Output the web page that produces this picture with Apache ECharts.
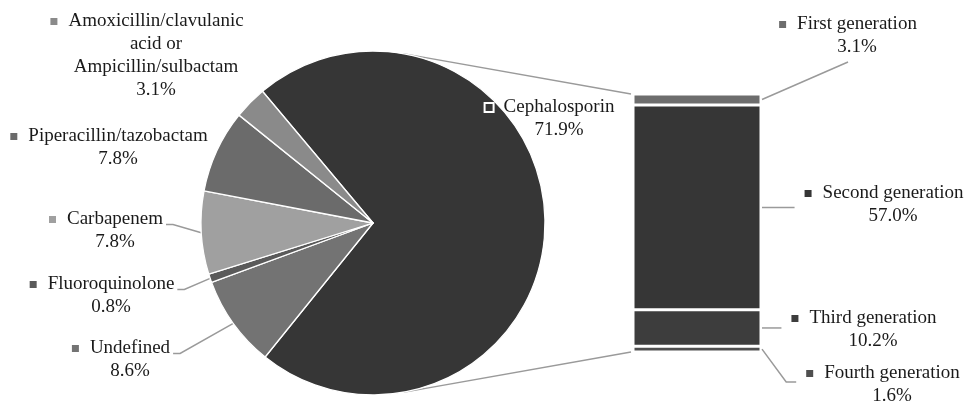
<!DOCTYPE html>
<html>
<head>
<meta charset="utf-8">
<script src="https://cdn.jsdelivr.net/npm/echarts@6/dist/echarts.min.js"></script>
<style>
  html, body { margin: 0; padding: 0; background: #fff; }
  #main { width: 964px; height: 403px; }
</style>
</head>
<body>
<div id="main"></div>
<script>
// pie: antibiotic classes (%)
var pieNames = ['Cephalosporin', 'Undefined', 'Fluoroquinolone', 'Carbapenem',
  'Piperacillin/tazobactam', 'Amoxicillin/clavulanic\nacid or\nAmpicillin/sulbactam'];
var pieValues = [71.9, 8.6, 0.8, 7.8, 7.8, 3.1];
// bar: cephalosporin split by generation (%)
var barNames = ['First generation', 'Second generation', 'Third generation', 'Fourth generation'];
var barValues = [3.1, 57.0, 10.2, 1.6];

var pieColors = ['#363636', '#737373', '#5a5a5a', '#a0a0a0', '#6b6b6b', '#8a8a8a'];
var barColors = ['#6d6d6d', '#363636', '#3d3d3d', '#4f4f4f'];

// where the label blocks sit (centre of each block)
var pieLabelPos = [[559, 119], [130, 360], [111, 296], [115, 231], [118, 148], [156, 56]];
var barLabelPos = [[857, 36], [893, 205], [873, 330], [892, 385]];
var barLineSide = ['bottom', 'left', 'left', 'left'];

var PIE_C = [373, 223], PIE_R = 172;
var GRID = { left: 633, top: 94, width: 128, height: 258 };
var FONT = "'Liberation Serif', 'Times New Roman', serif";
var FONT_SIZE = 19, LINE_H = 23;
var lineColor = '#9a9a9a';
var SPACER = 18; // marker + gap, mirrored on the right of line 1

function makeRich(colors) {
  var r = { g: { width: 11 } };
  colors.forEach(function (c, i) {
    r['m' + i] = { width: 7, height: 7, backgroundColor: c };
  });
  r.h = { width: 7 };
  return r;
}

function labelText(name, value, idx) {
  var lines = name.split('\n');
  var s = '{m' + idx + '|}{g|}' + lines[0] + '{g|}{h|}';
  for (var i = 1; i < lines.length; i++) s += '\n' + lines[i];
  return s + '\n' + value.toFixed(1) + '%';
}

var pieRich = makeRich(pieColors);
pieRich.m0 = { width: 7, height: 7, backgroundColor: '#363636', borderColor: '#fff', borderWidth: 2 };

var myChart = echarts.init(document.getElementById('main'));

var series = [{
  type: 'pie',
  center: PIE_C,
  radius: PIE_R,
  startAngle: 130,
  clockwise: true,
  avoidLabelOverlap: false,
  silent: true,
  itemStyle: { borderColor: '#fff', borderWidth: 1.3 },
  label: {
    show: true,
    position: 'outside',
    color: '#1a1a1a',
    fontFamily: FONT,
    fontSize: FONT_SIZE,
    lineHeight: LINE_H,
    align: 'center',
    rich: pieRich,
    formatter: function (p) { return labelText(p.name, p.value, p.dataIndex); }
  },
  labelLine: { show: true, lineStyle: { color: lineColor, width: 1.5 } },
  labelLayout: function (p) {
    var pos = pieLabelPos[p.dataIndex];
    var out = { x: pos[0], y: pos[1], align: 'center', verticalAlign: 'middle' };
    if (p.labelLinePoints) {
      var w = p.labelRect.width, h = p.labelRect.height;
      var right = pos[0] + w / 2 - SPACER;
      var ly = pos[1] - h / 2 + LINE_H / 2 + 5;
      out.labelLinePoints = [[right + 3, ly], [right + 10, ly], p.labelLinePoints[0]];
    }
    return out;
  },
  data: pieNames.map(function (n, i) {
    var item = { name: n, value: pieValues[i], itemStyle: { color: pieColors[i] } };
    if (i === 0 || i >= 4) item.labelLine = { show: false };
    return item;
  })
}];

var barRich = makeRich(barColors);
barNames.forEach(function (n, i) {
  series.push({
    name: n,
    type: 'bar',
    stack: 'ceph',
    barWidth: '100%',
    silent: true,
    data: [barValues[i]],
    itemStyle: { color: barColors[i], borderColor: '#fff', borderWidth: 1.5 },
    label: {
      show: true,
      position: 'right',
      color: '#1a1a1a',
      fontFamily: FONT,
      fontSize: FONT_SIZE,
      lineHeight: LINE_H,
      align: 'center',
      rich: barRich,
      formatter: function (p) { return labelText(n, p.value, i); }
    },
    labelLayout: function () {
      var pos = barLabelPos[i];
      return { x: pos[0], y: pos[1], align: 'center', verticalAlign: 'middle' };
    }
  });
});

// tangent point on the pie for a connector going to point P
function tangent(P, upper) {
  var dx = P[0] - PIE_C[0], dy = P[1] - PIE_C[1];
  var d = Math.sqrt(dx * dx + dy * dy);
  var phi = Math.atan2(dy, dx), a = Math.acos(PIE_R / d);
  var t = upper ? phi - a : phi + a;
  return [PIE_C[0] + PIE_R * Math.cos(t), PIE_C[1] + PIE_R * Math.sin(t)];
}
var topCorner = [GRID.left - 2, GRID.top];
var botCorner = [GRID.left - 2, GRID.top + GRID.height];
var t1 = tangent(topCorner, true), t2 = tangent(botCorner, false);

var option = {
  backgroundColor: '#fff',
  animation: false,
  grid: GRID,
  xAxis: { type: 'category', data: ['Cephalosporin'], show: false },
  yAxis: { type: 'value', min: 0, max: 71.9, inverse: true, show: false },
  graphic: [
    { type: 'line', id: 'connTop', z: -1, shape: { x1: t1[0], y1: t1[1], x2: topCorner[0], y2: topCorner[1] },
      style: { stroke: lineColor, lineWidth: 1.5 } },
    { type: 'line', id: 'connBot', z: -1, shape: { x1: t2[0], y1: t2[1], x2: botCorner[0], y2: botCorner[1] },
      style: { stroke: lineColor, lineWidth: 1.5 } }
  ],
  series: series
};

myChart.setOption(option);

// leader lines for the bar labels, from the middle of each segment
var ctx = document.createElement('canvas').getContext('2d');
ctx.font = FONT_SIZE + 'px ' + FONT;
var leaders = [];
var cum = 0;
barValues.forEach(function (v, i) {
  var midY = myChart.convertToPixel({ yAxisIndex: 0 }, cum + v / 2);
  cum += v;
  var anchor = [GRID.left + GRID.width + 1, midY];
  var pos = barLabelPos[i];
  var tw = ctx.measureText(barNames[i]).width;
  var h = 2 * LINE_H;
  var pts;
  if (barLineSide[i] === 'bottom') {
    pts = [anchor, [pos[0] - 9, pos[1] + h / 2 + 3]];
  } else {
    var left = pos[0] - tw / 2 - SPACER;
    var ly = i === barValues.length - 1 ? pos[1] - 3 : midY;
    pts = [anchor, [left - 20, ly], [left - 10, ly]];
  }
  leaders.push({ type: 'polyline', id: 'lead' + i, shape: { points: pts },
    style: { stroke: lineColor, lineWidth: 1.5, fill: null } });
});
myChart.setOption({ graphic: leaders });
</script>
</body>
</html>
